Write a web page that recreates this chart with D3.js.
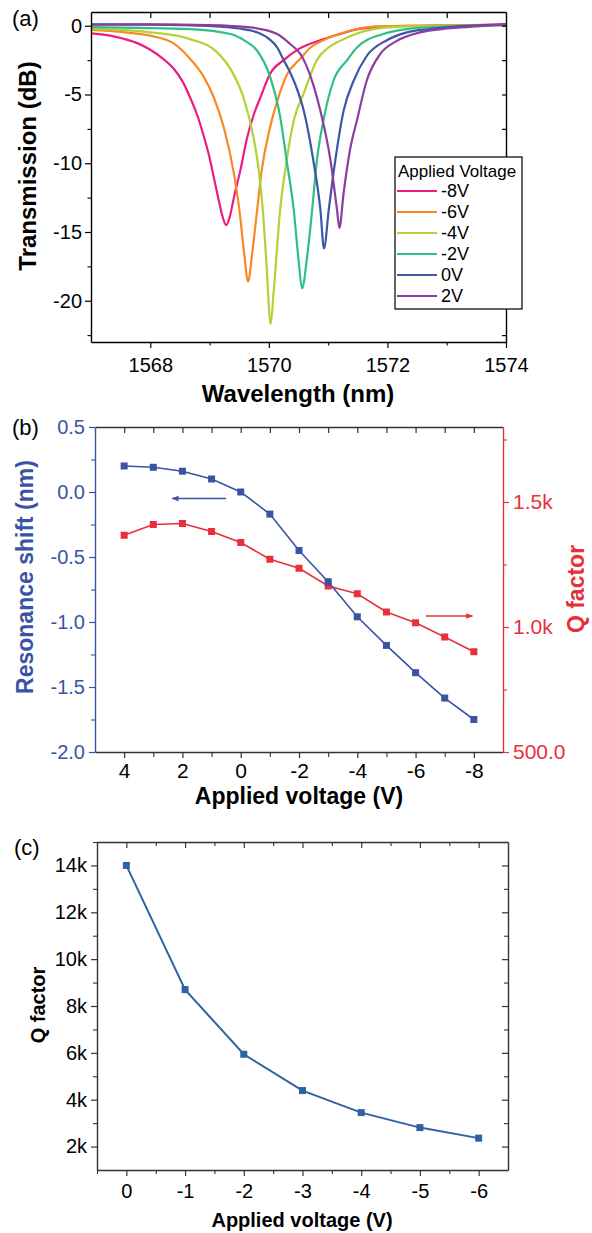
<!DOCTYPE html>
<html>
<head>
<meta charset="utf-8">
<script src="https://cdn.jsdelivr.net/npm/d3@7"></script>
<style>
body { margin: 0; background: #fff; }
svg { display: block; font-family: "Liberation Sans", Arial, Helvetica, sans-serif; }
</style>
</head>
<body>
<script>
// ---- (a) transmission spectra: [wavelength (nm), transmission (dB)]
const specM8 = [[1567.0,-0.55],[1567.3,-0.7],[1567.55,-0.95],[1567.8,-1.3],[1568.0,-1.75],[1568.2,-2.35],[1568.4,-3.15],[1568.55,-4.1],[1568.67,-5.2],[1568.8,-6.6],[1568.9,-8.0],[1569.0,-9.6],[1569.07,-11.0],[1569.15,-12.6],[1569.22,-13.9],[1569.28,-14.5],[1569.34,-13.9],[1569.42,-12.3],[1569.52,-10.5],[1569.63,-8.2],[1569.75,-6.4],[1569.85,-5.3],[1570.02,-3.5],[1570.25,-2.5],[1570.5,-1.7],[1570.9,-1.0],[1571.2,-0.6],[1571.5,-0.25],[1572.0,-0.05],[1572.5,0],[1573.0,0.02],[1573.5,0.05],[1574.0,0.08]];
const specM6 = [[1567.0,-0.3],[1567.5,-0.45],[1568.0,-0.72],[1568.4,-1.3],[1568.67,-2.4],[1568.9,-3.7],[1569.07,-5.2],[1569.24,-7.4],[1569.4,-10.5],[1569.5,-13.3],[1569.58,-16.4],[1569.65,-18.6],[1569.72,-16.5],[1569.8,-13.5],[1569.88,-10.5],[1570.02,-7.4],[1570.14,-5.5],[1570.3,-3.6],[1570.53,-2.4],[1570.7,-1.6],[1570.92,-1.05],[1571.37,-0.36],[1571.82,-0.05],[1572.5,0],[1573.2,0.03],[1574.0,0.08]];
const specM4 = [[1567.0,-0.22],[1567.5,-0.3],[1568.0,-0.48],[1568.67,-0.97],[1569.12,-1.9],[1569.4,-3.5],[1569.57,-5.2],[1569.74,-8.1],[1569.83,-10.5],[1569.9,-13.5],[1569.96,-17.3],[1570.03,-21.7],[1570.08,-19.4],[1570.19,-13.4],[1570.3,-9.8],[1570.42,-6.9],[1570.59,-4.9],[1570.81,-2.5],[1571.0,-1.6],[1571.2,-1.1],[1571.77,-0.24],[1572.3,-0.05],[1573.0,0],[1574.0,0.02]];
const specM2 = [[1567.0,-0.1],[1567.8,-0.15],[1568.67,-0.24],[1569.35,-0.6],[1569.6,-1.1],[1569.8,-1.8],[1570.02,-3.7],[1570.19,-6.6],[1570.3,-9.8],[1570.42,-13.4],[1570.5,-17.0],[1570.56,-19.1],[1570.64,-17.0],[1570.73,-13.4],[1570.81,-9.8],[1570.92,-6.9],[1571.09,-4.0],[1571.32,-2.5],[1571.49,-1.57],[1571.93,-0.6],[1572.33,-0.24],[1573.0,-0.05],[1574.0,0.05]];
const spec0 = [[1567.0,0.1],[1568.0,0.08],[1569.0,-0.02],[1569.5,-0.2],[1569.8,-0.48],[1570.0,-0.95],[1570.14,-1.57],[1570.25,-2.5],[1570.36,-3.4],[1570.5,-4.9],[1570.59,-6.2],[1570.75,-9.8],[1570.87,-13.4],[1570.93,-16.2],[1571.01,-13.4],[1571.12,-9.8],[1571.26,-6.2],[1571.43,-4.0],[1571.65,-2.2],[1571.99,-1.05],[1572.33,-0.48],[1572.72,-0.24],[1573.2,-0.05],[1574.0,0.1]];
const specP2 = [[1567.0,0.08],[1568.0,0.1],[1569.0,0.05],[1569.69,-0.12],[1570.14,-0.6],[1570.36,-1.33],[1570.53,-2.05],[1570.59,-2.5],[1570.75,-4.3],[1570.87,-6.2],[1571.04,-9.8],[1571.15,-13.4],[1571.19,-14.7],[1571.26,-12.2],[1571.37,-9.0],[1571.49,-6.8],[1571.65,-4.0],[1571.88,-2.05],[1572.16,-1.1],[1572.55,-0.48],[1573.0,-0.2],[1573.5,-0.05],[1574.0,0.1]];
const specLabels = ["-8V", "-6V", "-4V", "-2V", "0V", "2V"];
const specData = [specM8, specM6, specM4, specM2, spec0, specP2];
const specXTicks = [1568, 1570, 1572, 1574];
const specYTicks = [0, -5, -10, -15, -20];

// ---- (b) resonance shift and Q factor vs applied voltage
const voltsB = [4, 3, 2, 1, 0, -1, -2, -3, -4, -5, -6, -7, -8];
const shiftB = [0.20, 0.19, 0.16, 0.10, 0.00, -0.17, -0.45, -0.69, -0.96, -1.18, -1.39, -1.585, -1.75];
const qB = [1367, 1410, 1414, 1382, 1338, 1271, 1235, 1164, 1133, 1060, 1017, 960, 901];
const voltBTicks = [4, 2, 0, -2, -4, -6, -8];
const shiftTicks = [0.5, 0.0, -0.5, -1.0, -1.5, -2.0];
const qBTicks = [500, 1000, 1500];
const qBTickLabels = ["500.0", "1.0k", "1.5k"];
const shiftArrow = [[0.5, -0.05], [2.35, -0.05]];
const qArrow = [[-6.35, 1044], [-7.95, 1044]];

// ---- (c) Q factor vs applied voltage
const voltsC = [0, -1, -2, -3, -4, -5, -6];
const qC = [14000, 8700, 5940, 4390, 3450, 2810, 2360];
const qCTicks = [2000, 4000, 6000, 8000, 10000, 12000, 14000];

const FONT = '"Liberation Sans", Arial, Helvetica, sans-serif';
const W = 592, H = 1233;
const svg = d3.select("body").append("svg")
    .attr("width", W)
    .attr("height", H)
    .style("font-family", FONT);

const defs = svg.append("defs");
function arrowHead(id, color) {
    defs.append("marker")
        .attr("id", id)
        .attr("viewBox", "0 0 10 10")
        .attr("refX", 9).attr("refY", 5)
        .attr("markerWidth", 9).attr("markerHeight", 7)
        .attr("markerUnits", "userSpaceOnUse")
        .attr("orient", "auto")
      .append("path")
        .attr("d", "M0,1L10,5L0,9Z")
        .attr("fill", color);
}
arrowHead("arrBlue", "#3a53a4");
arrowHead("arrRed", "#e8303a");

// draws an axis with major (labelled) and minor ticks
function drawAxis(g, make, scale, opts) {
    const major = make(scale)
        .tickValues(opts.major)
        .tickSize(opts.size)
        .tickSizeOuter(0)
        .tickPadding(opts.pad || 3)
        .tickFormat(opts.labels ? opts.format : "");
    const ag = g.append("g")
        .attr("transform", opts.transform || null)
        .call(major);
    ag.select(".domain").attr("stroke", opts.color).attr("stroke-width", 1.4);
    ag.selectAll(".tick line").attr("stroke", opts.color).attr("stroke-width", 1.2);
    ag.selectAll(".tick text")
        .attr("fill", opts.textColor || opts.color)
        .style("font-size", (opts.fontSize || 18) + "px")
        .style("font-family", FONT);
    if (opts.minor) {
        const mg = g.append("g")
            .attr("transform", opts.transform || null)
            .call(make(scale).tickValues(opts.minor).tickSize(opts.minorSize).tickSizeOuter(0).tickFormat(""));
        mg.select(".domain").remove();
        mg.selectAll(".tick line").attr("stroke", opts.color).attr("stroke-width", 1.1);
    }
    return ag;
}

// ================= (a) =================
const xA = d3.scaleLinear().domain([1567, 1574]).range([91, 506]);
const yA = d3.scaleLinear().domain([-23, 1]).range([342, 12]);
const colorA = d3.scaleOrdinal()
    .domain(specLabels)
    .range(["#ec1c85", "#f98a23", "#b2d235", "#2fbf86", "#3d56a6", "#8e3ca0"]);

const gA = svg.append("g");
const lineA = d3.line()
    .x(d => xA(d[0]))
    .y(d => yA(d[1]))
    .curve(d3.curveMonotoneX);

specLabels.forEach((lab, i) => {
    gA.append("path")
        .datum(specData[i])
        .attr("d", lineA)
        .attr("fill", "none")
        .attr("stroke", colorA(lab))
        .attr("stroke-width", 2.2);
});

const minorA = d3.range(-22.5, 0, 2.5).filter(v => v % 5 !== 0);
const fmtInt = d => String(d);
drawAxis(gA, d3.axisBottom, xA, {transform: "translate(0,342)", major: specXTicks, minor: [1569, 1571, 1573],
    size: 6, minorSize: 3.5, labels: true, format: fmtInt, color: "#000", pad: 10, fontSize: 20});
drawAxis(gA, d3.axisTop, xA, {transform: "translate(0,12)", major: d3.range(1568, 1574), size: -6, color: "#000"});
drawAxis(gA, d3.axisLeft, yA, {transform: "translate(91,0)", major: specYTicks, minor: minorA,
    size: 6, minorSize: 3.5, labels: true, format: fmtInt, color: "#000", pad: 3, fontSize: 20});
drawAxis(gA, d3.axisRight, yA, {transform: "translate(506,0)", major: d3.range(-22.5, 0.1, 2.5), size: -4, color: "#000"});

gA.append("text").attr("x", 12).attr("y", 26).style("font-size", "22px").text("(a)");
gA.append("text")
    .attr("transform", "translate(36,166) rotate(-90)")
    .attr("text-anchor", "middle")
    .style("font-size", "24px").style("font-weight", "bold")
    .text("Transmission (dB)");
gA.append("text")
    .attr("x", 298).attr("y", 402)
    .attr("text-anchor", "middle")
    .style("font-size", "24px").style("font-weight", "bold")
    .text("Wavelength (nm)");

// legend
const leg = gA.append("g").attr("transform", "translate(395,157)");
leg.append("rect")
    .attr("width", 127).attr("height", 152)
    .attr("fill", "#fff").attr("stroke", "#000").attr("stroke-width", 1.2);
leg.append("text").attr("x", 3).attr("y", 20).style("font-size", "17px").text("Applied Voltage");
const legRow = leg.selectAll(".row").data(specLabels).enter().append("g")
    .attr("class", "row")
    .attr("transform", (d, i) => "translate(0," + (34 + i * 21) + ")");
legRow.append("line")
    .attr("x1", 2).attr("x2", 42)
    .attr("stroke", d => colorA(d)).attr("stroke-width", 2);
legRow.append("text")
    .attr("x", 46).attr("dy", "0.35em")
    .style("font-size", "18px")
    .text(d => d);

// ================= (b) =================
const xB = d3.scaleLinear().domain([5, -9]).range([95, 503]);
const yBL = d3.scaleLinear().domain([-2, 0.5]).range([752, 427]);
const yBR = d3.scaleLinear().domain([500, 1800]).range([752, 427]);
const blueB = "#3a53a4", redB = "#e8303a";
const gB = svg.append("g");

drawAxis(gB, d3.axisBottom, xB, {transform: "translate(0,752)", major: voltBTicks, minor: [3, 1, -1, -3, -5, -7],
    size: 6, minorSize: 5, labels: true, format: fmtInt, color: "#333", textColor: "#000", pad: 5, fontSize: 21});
drawAxis(gB, d3.axisTop, xB, {transform: "translate(0,427)", major: d3.range(4, -9, -1), size: -6, color: "#333"});
drawAxis(gB, d3.axisLeft, yBL, {transform: "translate(95,0)", major: shiftTicks, minor: [0.25, -0.25, -0.75, -1.25, -1.75],
    size: 6, minorSize: 4, labels: true, format: d => d.toFixed(1), color: blueB, pad: 4, fontSize: 20});
drawAxis(gB, d3.axisRight, yBR, {transform: "translate(503,0)", major: qBTicks, minor: [750, 1250, 1750],
    size: 6, minorSize: 4, labels: true, format: (d, i) => qBTickLabels[i], color: redB, pad: 4, fontSize: 21});

const shiftPts = voltsB.map((v, i) => [v, shiftB[i]]);
const qPts = voltsB.map((v, i) => [v, qB[i]]);

gB.append("path")
    .datum(qPts)
    .attr("d", d3.line().x(d => xB(d[0])).y(d => yBR(d[1])))
    .attr("fill", "none").attr("stroke", redB).attr("stroke-width", 1.6);
gB.selectAll(".qsq").data(qPts).enter().append("rect")
    .attr("x", d => xB(d[0]) - 3.5).attr("y", d => yBR(d[1]) - 3.5)
    .attr("width", 7).attr("height", 7).attr("fill", redB);

gB.append("path")
    .datum(shiftPts)
    .attr("d", d3.line().x(d => xB(d[0])).y(d => yBL(d[1])))
    .attr("fill", "none").attr("stroke", blueB).attr("stroke-width", 1.6);
gB.selectAll(".ssq").data(shiftPts).enter().append("rect")
    .attr("x", d => xB(d[0]) - 3.5).attr("y", d => yBL(d[1]) - 3.5)
    .attr("width", 7).attr("height", 7).attr("fill", blueB);

gB.append("line")
    .attr("x1", xB(shiftArrow[0][0])).attr("y1", yBL(shiftArrow[0][1]))
    .attr("x2", xB(shiftArrow[1][0])).attr("y2", yBL(shiftArrow[1][1]))
    .attr("stroke", blueB).attr("stroke-width", 1.5)
    .attr("marker-end", "url(#arrBlue)");
gB.append("line")
    .attr("x1", xB(qArrow[0][0])).attr("y1", yBR(qArrow[0][1]))
    .attr("x2", xB(qArrow[1][0])).attr("y2", yBR(qArrow[1][1]))
    .attr("stroke", redB).attr("stroke-width", 1.5)
    .attr("marker-end", "url(#arrRed)");

gB.append("text").attr("x", 12).attr("y", 435).style("font-size", "22px").text("(b)");
gB.append("text")
    .attr("transform", "translate(33,577) rotate(-90)")
    .attr("text-anchor", "middle")
    .attr("fill", blueB)
    .style("font-size", "23px").style("font-weight", "bold")
    .text("Resonance shift (nm)");
gB.append("text")
    .attr("transform", "translate(584,589) rotate(-90)")
    .attr("text-anchor", "middle")
    .attr("fill", redB)
    .style("font-size", "23px").style("font-weight", "bold")
    .text("Q factor");
gB.append("text")
    .attr("x", 299).attr("y", 804)
    .attr("text-anchor", "middle")
    .style("font-size", "23px").style("font-weight", "bold")
    .text("Applied voltage (V)");

// ================= (c) =================
const xC = d3.scaleLinear().domain([0.5, -6.5]).range([97, 508]);
const yC = d3.scaleLinear().domain([1000, 15000]).range([1170, 842]);
const blueC = "#2f62a5";
const gC = svg.append("g");

drawAxis(gC, d3.axisBottom, xC, {transform: "translate(0,1170)", major: voltsC, minor: d3.range(-5.5, 0.6, 1),
    size: 6, minorSize: 4, labels: true, format: fmtInt, color: "#333", textColor: "#000", pad: 8, fontSize: 20});
drawAxis(gC, d3.axisTop, xC, {transform: "translate(0,842)", major: voltsC, minor: d3.range(-5.5, 0.6, 1),
    size: -6, minorSize: -4, color: "#333"});
drawAxis(gC, d3.axisLeft, yC, {transform: "translate(97,0)", major: qCTicks, minor: d3.range(3000, 15001, 2000),
    size: 6, minorSize: 4, labels: true, format: d => (d / 1000) + "k", color: "#333", textColor: "#000", pad: 4, fontSize: 20});
drawAxis(gC, d3.axisRight, yC, {transform: "translate(508,0)", major: qCTicks, minor: d3.range(3000, 15001, 2000),
    size: -6, minorSize: -4, color: "#333"});

const qCPts = voltsC.map((v, i) => [v, qC[i]]);
gC.append("path")
    .datum(qCPts)
    .attr("d", d3.line().x(d => xC(d[0])).y(d => yC(d[1])))
    .attr("fill", "none").attr("stroke", blueC).attr("stroke-width", 2);
gC.selectAll(".csq").data(qCPts).enter().append("rect")
    .attr("x", d => xC(d[0]) - 3.5).attr("y", d => yC(d[1]) - 3.5)
    .attr("width", 7).attr("height", 7).attr("fill", blueC);

gC.append("text").attr("x", 14).attr("y", 855).style("font-size", "22px").text("(c)");
gC.append("text")
    .attr("transform", "translate(45,1005) rotate(-90)")
    .attr("text-anchor", "middle")
    .style("font-size", "20px").style("font-weight", "bold")
    .text("Q factor");
gC.append("text")
    .attr("x", 302).attr("y", 1227)
    .attr("text-anchor", "middle")
    .style("font-size", "20px").style("font-weight", "bold")
    .text("Applied voltage (V)");
</script>
</body>
</html>
